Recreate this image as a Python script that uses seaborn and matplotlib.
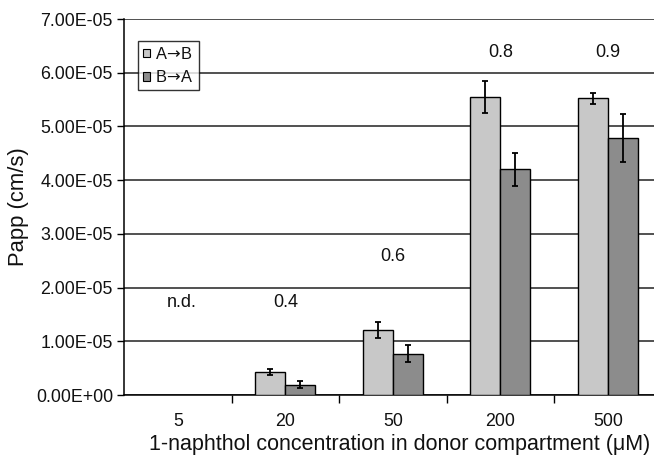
import numpy as np
import pandas as pd
import matplotlib
matplotlib.use("Agg")
import matplotlib.pyplot as plt
import seaborn as sns
from matplotlib.ticker import FuncFormatter

categories = ["5", "20", "50", "200", "500"]
series = ["A\u2192B", "B\u2192A"]
papp_ab = [np.nan, 0.43e-5, 1.21e-5, 5.55e-5, 5.52e-5]
papp_ba = [np.nan, 0.19e-5, 0.77e-5, 4.20e-5, 4.78e-5]
err_ab = [np.nan, 0.05e-5, 0.14e-5, 0.30e-5, 0.095e-5]
err_ba = [np.nan, 0.065e-5, 0.16e-5, 0.30e-5, 0.45e-5]
annotations = ["n.d.", "0.4", "0.6", "0.8", "0.9"]
annot_y = [1.72e-5, 1.72e-5, 2.58e-5, 6.38e-5, 6.38e-5]

rows = []
for c, a, b, ea, eb in zip(categories, papp_ab, papp_ba, err_ab, err_ba):
    rows.append({"conc": c, "dir": series[0], "papp": a, "err": ea})
    rows.append({"conc": c, "dir": series[1], "papp": b, "err": eb})
df = pd.DataFrame(rows).dropna()

sns.set_theme(style="white")
plt.rcParams["font.family"] = ["Liberation Sans", "DejaVu Sans"]
plt.rcParams["mathtext.fontset"] = "dejavusans"
for k in ["text.color", "axes.labelcolor", "xtick.color", "ytick.color"]:
    plt.rcParams[k] = "#111111"

fig = plt.figure(figsize=(6.54, 4.57), dpi=100)
ax = fig.add_axes([124 / 654, 1 - 395 / 457, 537.5 / 654, (395 - 19) / 457])

sns.barplot(data=df, x="conc", y="papp", hue="dir", order=categories,
            hue_order=series, palette=["#c8c8c8", "#8c8c8c"],
            width=0.56, edgecolor="black", linewidth=1.0,
            errorbar=None, ax=ax, zorder=3)

# error bars placed at the bar centres
for patch_group, errs, vals in zip(ax.containers, [err_ab, err_ba], [papp_ab, papp_ba]):
    valid = [i for i, v in enumerate(vals) if not np.isnan(v)]
    for bar, i in zip(patch_group.patches, valid):
        x = bar.get_x() + bar.get_width() / 2
        ax.errorbar(x, vals[i], yerr=errs[i], color="black", capsize=2.5,
                    elinewidth=1.3, capthick=1.3, zorder=4)

ax.set_ylim(0, 7e-5)
ax.set_xlim(-0.5, 4.5)
ax.set_yticks(np.arange(0, 7.01e-5, 1e-5))
ax.yaxis.set_major_formatter(FuncFormatter(lambda v, p: "%.2E" % v))
ax.yaxis.grid(True, color="#222222", linewidth=1.1, zorder=0)
ax.set_axisbelow(True)

ax.set_xticks([0.5, 1.5, 2.5, 3.5])
ax.set_xticklabels([])
ax.set_xticks(range(5), minor=True)
ax.set_xticklabels(categories, minor=True)
ax.tick_params(axis="x", which="major", direction="out", length=6, width=1, color="black", bottom=True)
ax.tick_params(axis="x", which="minor", length=0, pad=13, labelsize=12.8)
ax.tick_params(axis="y", direction="out", length=5, width=1, color="black", left=True, labelsize=12.8, pad=3)

for s in ["top", "right"]:
    ax.spines[s].set_visible(False)
for s in ["left", "bottom"]:
    ax.spines[s].set_color("black")
    ax.spines[s].set_linewidth(1.1)

for i, (t, y) in enumerate(zip(annotations, annot_y)):
    xo = 0.04 if t == "n.d." else 0.0
    ax.text(i + xo, y, t, ha="center", va="center", fontsize=13)

ax.set_xlabel("1-naphthol concentration in donor compartment (\u03bcM)", fontsize=15.5, labelpad=6)
ax.xaxis.set_label_coords((400 - 124) / 537.5, -0.105)
ax.set_ylabel("Papp (cm/s)", fontsize=15.8, labelpad=5)

leg = ax.legend(loc="upper left", bbox_to_anchor=(14 / 537.5, 1 - 22 / 376), fontsize=11.8,
                frameon=True, fancybox=False, edgecolor="black", handlelength=0.45,
                handleheight=0.45, handletextpad=0.3, borderpad=0.3, labelspacing=0.45,
                borderaxespad=0)
leg.get_frame().set_linewidth(1.0)
for txt in leg.get_texts():
    txt.set_text(txt.get_text().replace("\u2192", "$\\!\\rightarrow\\!$"))
for h in leg.legend_handles:
    h.set_linewidth(0.8)

fig.savefig("out.png", dpi=100)
